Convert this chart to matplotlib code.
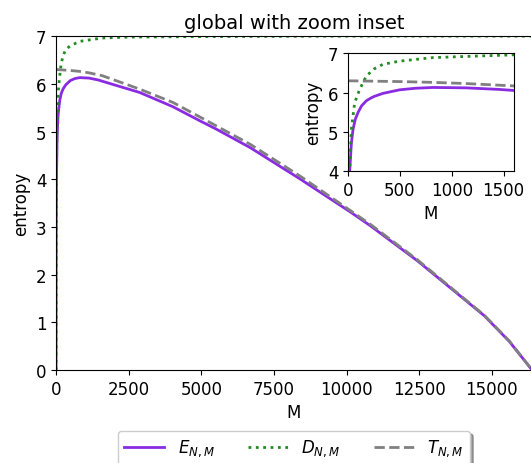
import matplotlib
matplotlib.use("Agg")
import matplotlib.pyplot as plt

# values
M_E = [1, 4, 8, 16, 32, 48, 70, 96, 130, 176, 220, 250, 337, 497, 650, 817, 1138, 1458, 1724, 2874,
       4023, 4966, 5517, 6690, 8414, 10138, 10828, 12437, 14736, 15600, 16384]
E = [0.0, 2.0, 3.0, 4.0, 4.7, 5.06, 5.32, 5.49, 5.66, 5.79, 5.86, 5.9, 5.98, 6.07, 6.11, 6.13, 6.12, 6.08, 6.03, 5.82,
     5.52, 5.22, 5.05, 4.66, 4.00, 3.31, 3.02, 2.29, 1.14, 0.6, 0.0]

M_D = [1, 4, 8, 16, 32, 64, 112, 176, 250, 337, 497, 817, 1138, 1593, 2500, 5000, 10000, 16384]
D = [0.0, 2.0, 3.0, 4.0, 5.06, 5.74, 6.08, 6.42, 6.6, 6.72, 6.80, 6.89, 6.92, 6.96, 6.98, 6.99, 7.0, 7.0]

M_T = [1, 497, 817, 1138, 1593, 2874, 4023, 4966, 6690, 8414, 10138, 10828, 12437, 14736, 15600, 16384]
T = [6.3, 6.28, 6.26, 6.23, 6.17, 5.89, 5.61, 5.30, 4.73, 4.06, 3.34, 3.05, 2.31, 1.15, 0.61, 0.0]

labels = ['$E_{N,M}$', '$D_{N,M}$', '$T_{N,M}$']
colors = ['blueviolet', 'forestgreen', 'gray']
styles = ['-', ':', '--']

plt.rcParams['font.size'] = 12


def draw(ax):
    ax.plot(M_E, E, color=colors[0], linestyle=styles[0], linewidth=2, label=labels[0])
    ax.plot(M_D, D, color=colors[1], linestyle=styles[1], linewidth=2, label=labels[1])
    ax.plot(M_T, T, color=colors[2], linestyle=styles[2], linewidth=2, label=labels[2])
    ax.set_xlabel("M")
    ax.set_ylabel("entropy")


fig = plt.figure(figsize=(5.31, 4.64), dpi=100)

# ana grafik
ax = fig.add_axes([0.1055, 0.2004, 0.8965, 0.7196])
draw(ax)
ax.set_xlim(0, 16384)
ax.set_ylim(0, 7)
ax.set_xticks([0, 2500, 5000, 7500, 10000, 12500, 15000])
ax.set_title("global with zoom inset", fontsize=14)
ax.legend(loc='upper center', bbox_to_anchor=(0.5, -0.158), ncol=3, shadow=True,
          handlelength=2.4)

# zoom inset
axin = fig.add_axes([0.6554, 0.629, 0.3126, 0.254])
draw(axin)
axin.set_xlim(0, 1600)
axin.set_ylim(4, 7)
axin.set_xticks([0, 500, 1000, 1500])
axin.set_yticks([4, 5, 6, 7])

fig.savefig("out.png", dpi=100)
